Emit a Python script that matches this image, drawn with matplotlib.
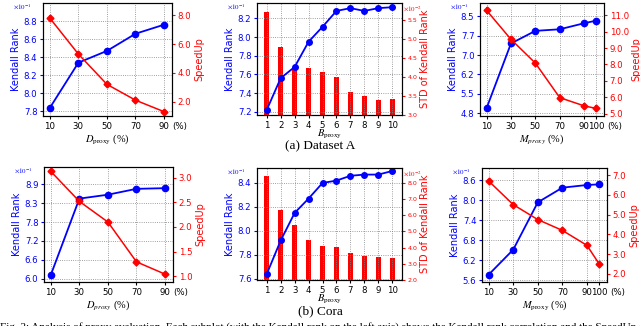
import matplotlib
matplotlib.use("Agg")
import matplotlib.pyplot as plt

plt.rcParams["mathtext.fontset"] = "stix"

# ---- data (Kendall values shown in units of 1e-1, STD in 1e-2) ----
pct_d = [10, 30, 50, 70, 90]
pct_m = [10, 30, 50, 70, 90, 100]
b_vals = [1, 2, 3, 4, 5, 6, 7, 8, 9, 10]

# Dataset A
a_d_kendall = [7.84, 8.34, 8.47, 8.66, 8.76]
a_d_speedup = [7.8, 5.3, 3.2, 2.1, 1.3]
a_d_speed_err = [0.2, 0.2, 0.2, 0.15, 0.15]
a_b_kendall = [7.22, 7.56, 7.68, 7.95, 8.11, 8.28, 8.31, 8.28, 8.31, 8.32]
a_b_std = [5.72, 4.79, 4.23, 4.24, 4.13, 3.99, 3.61, 3.49, 3.40, 3.43]
a_m_kendall = [5.0, 7.46, 7.94, 8.0, 8.23, 8.33]
a_m_speedup = [11.3, 9.53, 8.08, 5.97, 5.47, 5.31]
a_m_speed_err = [0.2, 0.2, 0.2, 0.2, 0.2, 0.2]

# Cora
c_d_kendall = [6.12, 8.46, 8.58, 8.76, 8.78]
c_d_speedup = [3.13, 2.52, 2.10, 1.29, 1.04]
c_d_speed_err = [0.05, 0.04, 0.04, 0.04, 0.04]
c_b_kendall = [7.64, 7.92, 8.15, 8.27, 8.40, 8.42, 8.46, 8.47, 8.47, 8.50]
c_b_std = [8.43, 6.33, 5.40, 4.47, 4.10, 4.06, 3.67, 3.50, 3.42, 3.34]
c_m_kendall = [5.77, 6.52, 7.94, 8.38, 8.46, 8.48]
c_m_speedup = [6.71, 5.51, 4.75, 4.20, 3.44, 2.49]
c_m_speed_err = [0.12, 0.12, 0.12, 0.12, 0.12, 0.12]

W, H = 640, 326
fig = plt.figure(figsize=(W / 100, H / 100), dpi=100)
TICK = 6.2


def box(x1, y1, x2, y2):
    return [x1 / W, 1 - y2 / H, (x2 - x1) / W, (y2 - y1) / H]


def style_left(ax, yticks, ylabels, ylim):
    ax.set_ylim(*ylim)
    ax.set_yticks(yticks)
    ax.set_yticklabels(ylabels)
    ax.tick_params(axis="y", colors="blue", labelsize=TICK, length=2.5, pad=1.5)
    ax.tick_params(axis="x", labelsize=TICK, length=2.5, pad=1.5)
    ax.set_ylabel("Kendall Rank", color="blue", fontsize=7, labelpad=2)
    ax.grid(True, linestyle=":", color="gray", linewidth=0.6)
    ax.annotate(r"$\times10^{-1}$", xy=(0, 1), xycoords="axes fraction",
                xytext=(-8, 0), textcoords="offset points", color="blue",
                fontsize=5, ha="right", va="top", family="DejaVu Sans")


def speed_panel(rect, xs, kendall, speed, err, yticks, ylabels, ylim,
                sticks, slim, xlabel):
    ax = fig.add_axes(box(*rect))
    ax.plot(xs, kendall, color="blue", marker="o", markersize=4.5, linewidth=1.3)
    ax.set_xticks(xs)
    ax.set_xlim(xs[0] - 0.06 * (xs[-1] - xs[0]), xs[-1] + 0.07 * (xs[-1] - xs[0]))
    style_left(ax, yticks, ylabels, ylim)
    ax.set_xlabel(xlabel, fontsize=7.5, family="Liberation Serif", labelpad=1)
    half = 0.318 * TICK * len(str(xs[-1]))
    ax.annotate("(%)", xy=(xs[-1], 0), xycoords=("data", "axes fraction"),
                xytext=(half + 2, -4), textcoords="offset points",
                fontsize=TICK, ha="left", va="top")
    ax2 = ax.twinx()
    ax2.errorbar(xs, speed, yerr=err, color="red", marker="D", markersize=3.5,
                 linewidth=1.1, elinewidth=1.2, capsize=0)
    ax2.set_ylim(*slim)
    ax2.set_yticks(sticks)
    ax2.set_yticklabels(["%.1f" % t for t in sticks])
    ax2.tick_params(axis="y", colors="red", labelsize=TICK, length=2.5, pad=1.5)
    ax2.set_ylabel("SpeedUp", color="red", fontsize=7, labelpad=2)
    return ax


def bar_panel(rect, xs, kendall, std, yticks, ylim, sticks, slim):
    ax = fig.add_axes(box(*rect))
    ax.plot(xs, kendall, color="blue", marker="o", markersize=4, linewidth=1.3)
    ax.set_xticks(xs)
    ax.set_xlim(0.3, 10.7)
    style_left(ax, yticks, ["%.1f" % t for t in yticks], ylim)
    ax.set_xlabel(r"$B_{\mathrm{proxy}}$", fontsize=7.5, labelpad=-1)
    ax2 = ax.twinx()
    ax2.bar(xs, std, width=0.33, color="red")
    ax2.set_ylim(*slim)
    ax2.set_yticks(sticks)
    ax2.set_yticklabels(["%.1f" % t for t in sticks])
    ax2.tick_params(axis="y", colors="red", labelsize=4.5, length=2.5, pad=1.5)
    ax2.set_ylabel("STD of Kendall Rank", color="red", fontsize=7, labelpad=2)
    ax2.annotate(r"$\times10^{-2}$", xy=(1, 1), xycoords="axes fraction",
                 xytext=(1, -1), textcoords="offset points", color="red",
                 fontsize=5, ha="left", va="top", family="DejaVu Sans")
    ax.set_zorder(ax2.get_zorder() + 1)
    ax.patch.set_visible(False)
    return ax


# ---- (a) Dataset A ----
speed_panel((43, 3, 172, 116), pct_d, a_d_kendall, a_d_speedup, a_d_speed_err,
            [7.8, 8.0, 8.2, 8.4, 8.6, 8.8], ["7.8", "8.0", "8.2", "8.4", "8.6", "8.8"],
            (7.75, 9.0), [2.0, 4.0, 6.0, 8.0], (1.0, 8.85),
            r"$D_{\mathrm{proxy}}$ (%)")
bar_panel((257, 3, 402, 115), b_vals, a_b_kendall, a_b_std,
          [7.2, 7.4, 7.6, 7.8, 8.0, 8.2], (7.165, 8.365),
          [3.0, 3.5, 4.0, 4.5, 5.0, 5.5], (3.0, 5.95))
m_ticks_a = [4.8 + i * 0.74 for i in range(6)]
speed_panel((480, 3, 604, 116), pct_m, a_m_kendall, a_m_speedup, a_m_speed_err,
            m_ticks_a, ["4.8", "5.5", "6.2", "7.0", "7.7", "8.5"],
            (4.7, 9.0), [5.0, 6.0, 7.0, 8.0, 9.0, 10.0, 11.0], (4.85, 11.75),
            r"$M_{proxy}$ (%)")

# ---- (b) Cora ----
d_ticks_c = [6.0 + i * 0.58 for i in range(6)]
speed_panel((44, 167, 173, 282), pct_d, c_d_kendall, c_d_speedup, c_d_speed_err,
            d_ticks_c, ["6.0", "6.6", "7.2", "7.8", "8.3", "8.9"],
            (5.9, 9.43), [1.0, 1.5, 2.0, 2.5, 3.0], (0.88, 3.22),
            r"$D_{proxy}$ (%)")
bar_panel((257, 168, 402, 280), b_vals, c_b_kendall, c_b_std,
          [7.6, 7.8, 8.0, 8.2, 8.4], (7.59, 8.525),
          [2.0, 3.0, 4.0, 5.0, 6.0, 7.0, 8.0], (2.0, 8.9))
speed_panel((482, 168, 607, 282), pct_m, c_m_kendall, c_m_speedup, c_m_speed_err,
            [5.6, 6.2, 6.8, 7.4, 8.0, 8.6], ["5.6", "6.2", "6.8", "7.4", "8.0", "8.6"],
            (5.55, 8.97), [2.0, 3.0, 4.0, 5.0, 6.0, 7.0], (1.58, 7.37),
            r"$M_{\mathrm{proxy}}$ (%)")

# ---- captions ----
fig.text(0.5, 1 - 146 / H, "(a) Dataset A", ha="center", va="center",
         fontsize=9.5, family="Liberation Serif")
fig.text(0.5, 1 - 311.5 / H, "(b) Cora", ha="center", va="center",
         fontsize=9.5, family="Liberation Serif")
fig.text(0.0, 1 - 322 / H,
         "Fig. 3: Analysis of proxy evaluation. Each subplot (with the Kendall rank on the left axis) shows the Kendall rank correlation and the SpeedUp of",
         ha="left", va="top", fontsize=8, family="Liberation Serif")

fig.savefig("out.png", dpi=100)
